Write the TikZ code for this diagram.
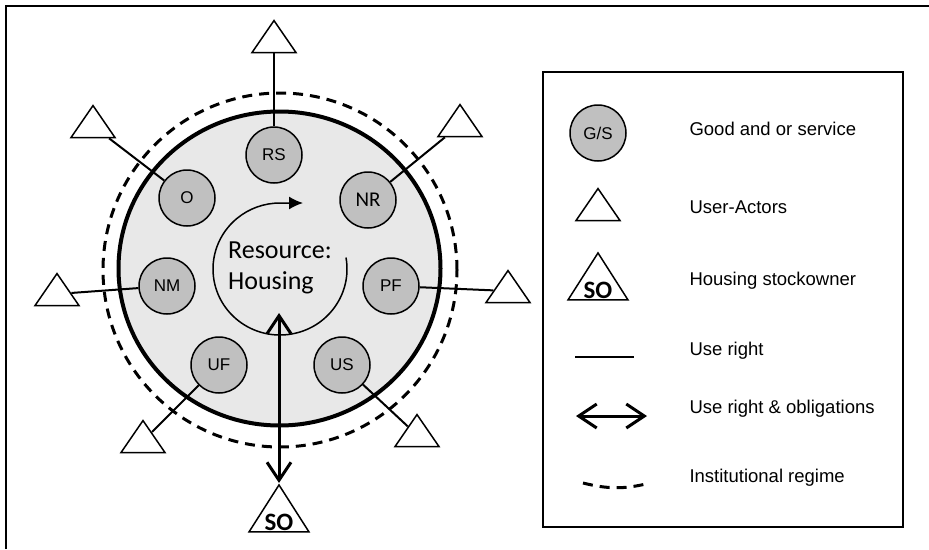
\documentclass[tikz,border=0pt]{standalone}
\usepackage{fontspec}
\setmainfont{Liberation Sans}
\newfontfamily\calibri{Carlito}
\usetikzlibrary{shapes.geometric,arrows.meta}

\definecolor{gsgray}{HTML}{C0C0C0}
\definecolor{resgray}{HTML}{E8E8E8}

\tikzset{
  good/.style={circle, draw, line width=1.5pt, fill=gsgray, minimum size=56pt,
    inner sep=0pt, font=\fontsize{17}{17}\selectfont},
  actor/.style={isosceles triangle, isosceles triangle stretches,
    shape border rotate=90, draw, line width=1.5pt, fill=white,
    minimum width=44pt, minimum height=32pt, inner sep=0pt},
  owner/.style={actor, minimum width=60pt, minimum height=47pt},
  sotext/.style={anchor=base, font=\calibri\bfseries\fontsize{25}{25}\selectfont},
  useright/.style={line width=2pt},
  obligation/.style={line width=3pt,
    {Straight Barb[length=18pt,width=24pt]}-{Straight Barb[length=18pt,width=24pt]}},
  regime/.style={line width=3pt, dash pattern=on 10pt off 7pt},
  keytext/.style={anchor=base west, font=\fontsize{18.5}{18.5}\selectfont},
}

\begin{document}
\begin{tikzpicture}[x=1pt, y=-1pt]
  \useasboundingbox (0,0) rectangle (929,549);
  \draw [line width=2.5pt] (6,549) -- (6,6) -- (929,6);

  % resource and regime
  \coordinate (hub) at (280,269);
  \draw [regime] (280,270) circle (177pt);
  \draw [line width=4pt, fill=resgray] (279.5,268.5) ellipse (161pt and 157pt);
  \draw [line width=1.5pt, -{Latex[length=14pt,width=13pt]}]
    ([shift={(10:67pt and 66pt)}]hub) arc [start angle=10, end angle=-270,
    x radius=67pt, y radius=66pt] -- (303,203);
  \node [align=left, font=\calibri\fontsize{26}{31}\selectfont] (housing)
    at (280,268) {Resource:\\Housing};

  % goods and services
  \node [good] (rs) at (274,155) {RS};
  \node [good] (o)  at (187,198) {O};
  \node [good, font=\calibri\fontsize{21}{21}\selectfont] (nr) at (368,200) {NR};
  \node [good] (nm) at (167,286) {NM};
  \node [good] (pf) at (391,286) {PF};
  \node [good] (uf) at (219,365) {UF};
  \node [good] (us) at (342,365) {US};

  % user-actors
  \node [actor] (ars) at (274,41)  {};
  \node [actor] (ao)  at (93,126)  {};
  \node [actor] (anr) at (460,125) {};
  \node [actor] (anm) at (57,294)  {};
  \node [actor] (apf) at (508,291) {};
  \node [actor] (auf) at (143,441) {};
  \node [actor] (aus) at (417,435) {};

  \draw [useright] (rs) -- (ars);
  \draw [useright] (o)  -- (ao);
  \draw [useright] (nr) -- (anr);
  \draw [useright] (nm) -- (anm);
  \draw [useright] (pf) -- (apf);
  \draw [useright] (uf) -- (auf);
  \draw [useright] (us) -- (aus);

  % stockowner
  \node [owner] (so) at (279,515.5) {};
  \node [sotext] (sotag) at ([yshift=2pt]so.south) {SO};
  \coordinate (core) at (279,313);
  \draw [obligation] (so.apex) -- (core);

  % legend
  \draw [line width=2pt] (543,72) rectangle (903,527);
  \node [good] (kgs) at (598,133) {G/S};
  \node [actor] (kua) at (598,209) {};
  \node [owner] (kso) at (598,283.5) {};
  \node [sotext] (ksotag) at ([yshift=2pt]kso.south) {SO};
  \coordinate (kur1) at (575,357);
  \coordinate (kur2) at (634,357);
  \draw [useright, line width=2.5pt] (kur1) -- (kur2);
  \coordinate (kob1) at (576,416);
  \coordinate (kob2) at (647,416);
  \draw [obligation] (kob1) -- (kob2);
  \coordinate (kir1) at (583,483);
  \coordinate (kir2) at (650,483);
  \draw [regime] (kir1) to [bend right=14] (kir2);

  \node [keytext] (tgs) at (686,135) {Good and or service};
  \node [keytext] (tua) at (686,213) {User-Actors};
  \node [keytext] (tso) at (686,285) {Housing stockowner};
  \node [keytext] (tur) at (686,355) {Use right};
  \node [keytext] (tob) at (686,413) {Use right \& obligations};
  \node [keytext] (tir) at (686,482) {Institutional regime};
\end{tikzpicture}
\end{document}
